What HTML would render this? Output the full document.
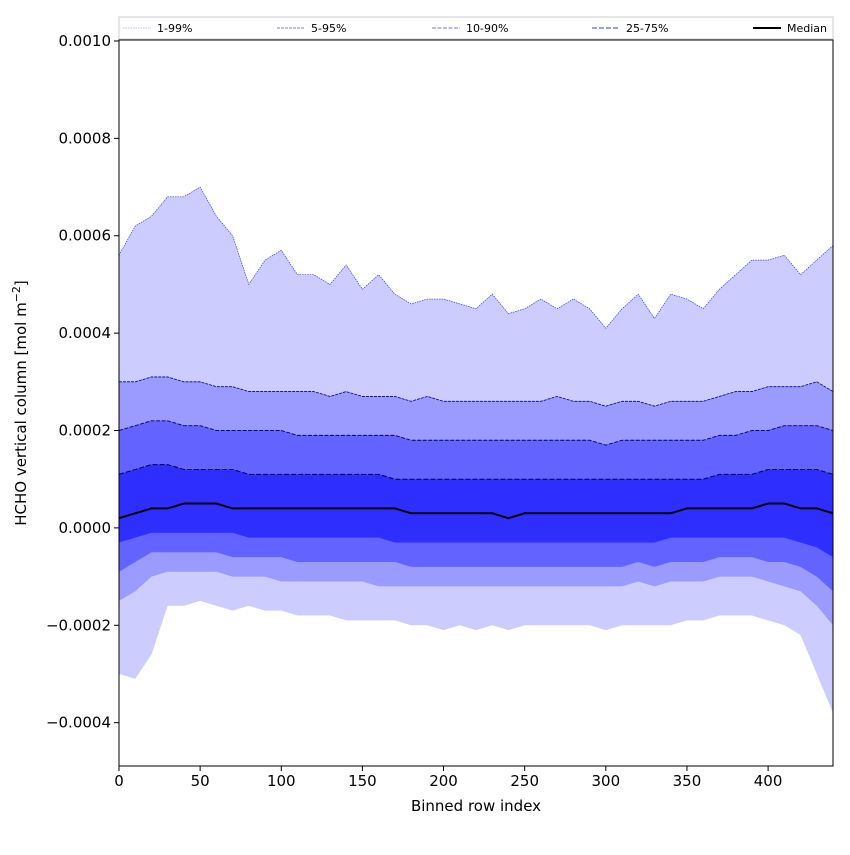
<!DOCTYPE html>
<html><head><meta charset="utf-8"><style>
body{margin:0;background:#fff;}
svg text{font-family:"DejaVu Sans","Liberation Sans",sans-serif;}
</style></head><body>
<svg id="chart" width="850" height="850" xmlns="http://www.w3.org/2000/svg"></svg>
<script>
const xIndex=[0,10,20,30,40,50,60,70,80,90,100,110,120,130,140,150,160,170,180,190,200,210,220,230,240,250,260,270,280,290,300,310,320,330,340,350,360,370,380,390,400,410,420,430,440];
const p99=[0.00056,0.00062,0.00064,0.00068,0.00068,0.00070,0.00064,0.00060,0.00050,0.00055,0.00057,0.00052,0.00052,0.00050,0.00054,0.00049,0.00052,0.00048,0.00046,0.00047,0.00047,0.00046,0.00045,0.00048,0.00044,0.00045,0.00047,0.00045,0.00047,0.00045,0.00041,0.00045,0.00048,0.00043,0.00048,0.00047,0.00045,0.00049,0.00052,0.00055,0.00055,0.00056,0.00052,0.00055,0.00058];
const p1=[-0.00030,-0.00031,-0.00026,-0.00016,-0.00016,-0.00015,-0.00016,-0.00017,-0.00016,-0.00017,-0.00017,-0.00018,-0.00018,-0.00018,-0.00019,-0.00019,-0.00019,-0.00019,-0.00020,-0.00020,-0.00021,-0.00020,-0.00021,-0.00020,-0.00021,-0.00020,-0.00020,-0.00020,-0.00020,-0.00020,-0.00021,-0.00020,-0.00020,-0.00020,-0.00020,-0.00019,-0.00019,-0.00018,-0.00018,-0.00018,-0.00019,-0.00020,-0.00022,-0.00030,-0.00038];
const p95=[0.00030,0.00030,0.00031,0.00031,0.00030,0.00030,0.00029,0.00029,0.00028,0.00028,0.00028,0.00028,0.00028,0.00027,0.00028,0.00027,0.00027,0.00027,0.00026,0.00027,0.00026,0.00026,0.00026,0.00026,0.00026,0.00026,0.00026,0.00027,0.00026,0.00026,0.00025,0.00026,0.00026,0.00025,0.00026,0.00026,0.00026,0.00027,0.00028,0.00028,0.00029,0.00029,0.00029,0.00030,0.00028];
const p5=[-0.00015,-0.00013,-0.00010,-0.00009,-0.00009,-0.00009,-0.00009,-0.00010,-0.00010,-0.00010,-0.00011,-0.00011,-0.00011,-0.00011,-0.00011,-0.00011,-0.00012,-0.00012,-0.00012,-0.00012,-0.00012,-0.00012,-0.00012,-0.00012,-0.00012,-0.00012,-0.00012,-0.00012,-0.00012,-0.00012,-0.00012,-0.00012,-0.00011,-0.00012,-0.00011,-0.00011,-0.00011,-0.00010,-0.00010,-0.00010,-0.00011,-0.00012,-0.00013,-0.00016,-0.00020];
const p90=[0.00020,0.00021,0.00022,0.00022,0.00021,0.00021,0.00020,0.00020,0.00020,0.00020,0.00020,0.00019,0.00019,0.00019,0.00019,0.00019,0.00019,0.00019,0.00018,0.00018,0.00018,0.00018,0.00018,0.00018,0.00018,0.00018,0.00018,0.00018,0.00018,0.00018,0.00017,0.00018,0.00018,0.00018,0.00018,0.00018,0.00018,0.00019,0.00019,0.00020,0.00020,0.00021,0.00021,0.00021,0.00020];
const p10=[-0.00009,-0.00007,-0.00005,-0.00005,-0.00005,-0.00005,-0.00005,-0.00006,-0.00006,-0.00006,-0.00006,-0.00007,-0.00007,-0.00007,-0.00007,-0.00007,-0.00007,-0.00007,-0.00008,-0.00008,-0.00008,-0.00008,-0.00008,-0.00008,-0.00008,-0.00008,-0.00008,-0.00008,-0.00008,-0.00008,-0.00008,-0.00008,-0.00007,-0.00008,-0.00007,-0.00007,-0.00007,-0.00006,-0.00006,-0.00006,-0.00007,-0.00007,-0.00008,-0.00010,-0.00013];
const p75=[0.00011,0.00012,0.00013,0.00013,0.00012,0.00012,0.00012,0.00012,0.00011,0.00011,0.00011,0.00011,0.00011,0.00011,0.00011,0.00011,0.00011,0.00010,0.00010,0.00010,0.00010,0.00010,0.00010,0.00010,0.00010,0.00010,0.00010,0.00010,0.00010,0.00010,0.00010,0.00010,0.00010,0.00010,0.00010,0.00010,0.00010,0.00011,0.00011,0.00011,0.00012,0.00012,0.00012,0.00012,0.00011];
const p25=[-0.00003,-0.00002,-0.00001,-0.00001,-0.00001,-0.00001,-0.00001,-0.00001,-0.00002,-0.00002,-0.00002,-0.00002,-0.00002,-0.00002,-0.00002,-0.00002,-0.00002,-0.00003,-0.00003,-0.00003,-0.00003,-0.00003,-0.00003,-0.00003,-0.00003,-0.00003,-0.00003,-0.00003,-0.00003,-0.00003,-0.00003,-0.00003,-0.00003,-0.00003,-0.00002,-0.00002,-0.00002,-0.00002,-0.00002,-0.00002,-0.00002,-0.00002,-0.00003,-0.00004,-0.00006];
const median=[0.00002,0.00003,0.00004,0.00004,0.00005,0.00005,0.00005,0.00004,0.00004,0.00004,0.00004,0.00004,0.00004,0.00004,0.00004,0.00004,0.00004,0.00004,0.00003,0.00003,0.00003,0.00003,0.00003,0.00003,0.00002,0.00003,0.00003,0.00003,0.00003,0.00003,0.00003,0.00003,0.00003,0.00003,0.00003,0.00004,0.00004,0.00004,0.00004,0.00004,0.00005,0.00005,0.00004,0.00004,0.00003];
const xTicks=[0,50,100,150,200,250,300,350,400];
const yTicks=[-0.0004,-0.0002,0,0.0002,0.0004,0.0006,0.0008,0.0010];
const yTickLabels=["\u22120.0004","\u22120.0002","0.0000","0.0002","0.0004","0.0006","0.0008","0.0010"];

const L=119,R=833,T=40,B=766;
const xMin=0,xMax=440,yMin=-0.000489,yMax=0.001002;
const X=v=>L+(v-xMin)/(xMax-xMin)*(R-L);
const Y=v=>B-(v-yMin)/(yMax-yMin)*(B-T);
const svg=document.getElementById('chart');
const NS='http://www.w3.org/2000/svg';
function mk(tag,attrs,parent){const e=document.createElementNS(NS,tag);for(const k in attrs)e.setAttribute(k,attrs[k]);(parent||svg).appendChild(e);return e;}
const clip=mk('clipPath',{id:'pc'});mk('rect',{x:L,y:T,width:R-L,height:B-T},clip);
const g=mk('g',{'clip-path':'url(#pc)'});
function band(up,lo,fill,name){
  let d='M'+xIndex.map((x,i)=>X(x)+','+Y(up[i])).join('L');
  for(let i=xIndex.length-1;i>=0;i--)d+='L'+X(xIndex[i])+','+Y(lo[i]);
  const p=mk('path',{d:d+'Z',fill:fill,stroke:'none'},g);
  
  
}
function line(arr,stroke,w,dash,name){
  const p=mk('polyline',{points:xIndex.map((x,i)=>X(x)+','+Y(arr[i])).join(' '),fill:'none',stroke:stroke,'stroke-width':w,'stroke-dasharray':dash},g);
  
  
}
band(p99,p1,'#ccccff','band-1-99');
band(p95,p5,'#9a9aff','band-5-95');
band(p90,p10,'#6363ff','band-10-90');
band(p75,p25,'#2e2eff','band-25-75');
line(p99,'#3333ff',0.7,'1.5 1','line-99');
line(p95,'#000088',0.8,'3 1','line-95');
line(p90,'#000066',0.9,'4 1.5','line-90');
line(p75,'#000044',1,'5 2','line-75');
line(median,'#000',2,'none','median-line');
const frame=mk('rect',{x:L,y:T,width:R-L,height:B-T,fill:'none',stroke:'#000','stroke-width':1});


xTicks.forEach(t=>{
  mk('line',{x1:X(t),x2:X(t),y1:B,y2:B+5,stroke:'#000'});
  const tx=mk('text',{x:X(t),y:B+20,'text-anchor':'middle','font-size':15});
  tx.textContent=t;
  
  
});
yTicks.forEach((t,i)=>{
  mk('line',{x1:L-5,x2:L,y1:Y(t),y2:Y(t),stroke:'#000'});
  const tx=mk('text',{x:L-8,y:Y(t)+5,'text-anchor':'end','font-size':15});
  tx.textContent=yTickLabels[i];
  
  
});
const xl=mk('text',{x:(L+R)/2,y:811,'text-anchor':'middle','font-size':15});
xl.textContent='Binned row index';


const yl=mk('text',{x:0,y:0,'text-anchor':'middle','font-size':15,transform:'translate(26,403) rotate(-90)'});
yl.innerHTML='HCHO vertical column [mol m<tspan dy="-6" font-size="11">\u22122</tspan><tspan dy="6">]</tspan>';


// legend
const lg=mk('g',{});


mk('rect',{x:L,y:17,width:R-L,height:22,fill:'#fff',stroke:'#ccc','stroke-width':1},lg);
const legNames=['1-99%','5-95%','10-90%','25-75%','Median'];
const legStyle=[['#aaaaff',0.7,'1.5 1'],['#555599',0.8,'3 1'],['#7777dd',1,'4 1.5'],['#3333ff',1,'5 2'],['#000',2,'none']];
const legX=[123,277,432,592,753];
legNames.forEach((n,i)=>{
  const e=mk('g',{},lg);
  
  
  mk('line',{x1:legX[i],x2:legX[i]+28,y1:28,y2:28,stroke:legStyle[i][0],'stroke-width':legStyle[i][1],'stroke-dasharray':legStyle[i][2]},e);
  const t=mk('text',{x:legX[i]+34,y:32,'font-size':11},e);
  t.textContent=n;
});
</script>
</body></html>
